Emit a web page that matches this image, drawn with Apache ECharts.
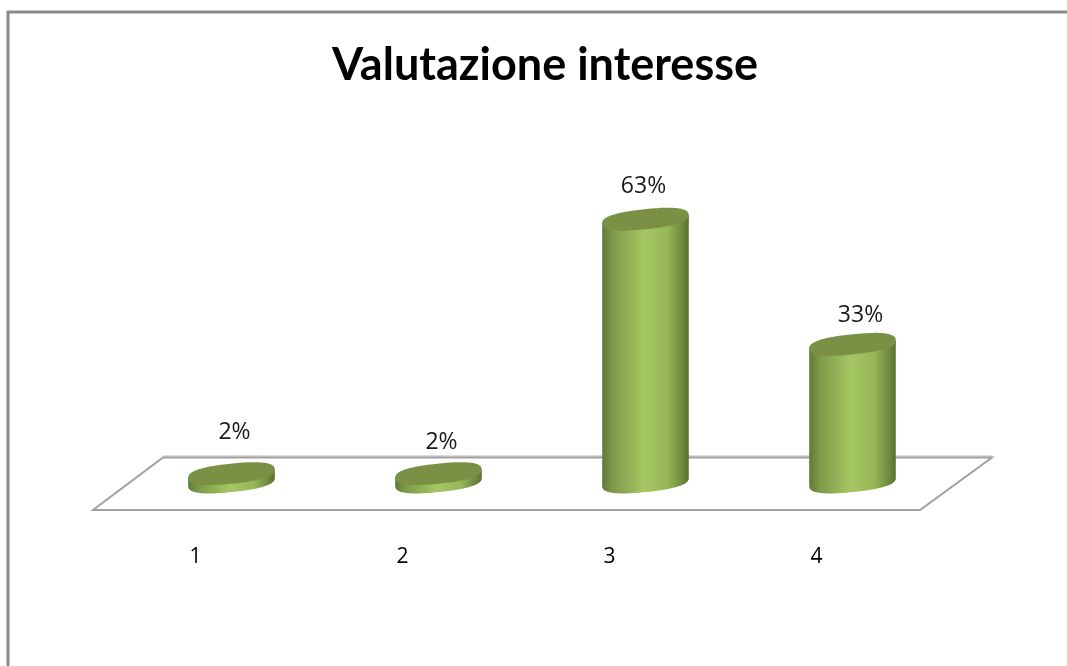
<!DOCTYPE html>
<html>
<head>
<meta charset="utf-8">
<title>Valutazione interesse</title>
<script src="https://cdn.jsdelivr.net/npm/echarts@6/dist/echarts.min.js"></script>
<style>
  html, body { margin: 0; padding: 0; background: #fff; }
  #chart { width: 1067px; height: 666px; }
</style>
</head>
<body>
<div id="chart"></div>
<script>
const chartTitle = "Valutazione interesse";
const categories = ["1", "2", "3", "4"];
const values = [2, 2, 63, 33];

// piccoli spostamenti delle etichette rispetto al cilindro
const labelNudgeX = [3, 3, -2, 8];
const labelNudgeY = [-18, -8, -10, -6];

const chart = echarts.init(document.getElementById("chart"));

const tilt = (6 * Math.PI) / 180;
const ryCap = 10;
const roundPow = (v) => Math.sign(v) * Math.pow(Math.abs(v), 0.8);

// contorno dell'ellisse inclinata, un po' piena come nell'originale
const capOutline = (cx, cy, rx) => {
  const pts = [];
  for (let i = 0; i < 120; i++) {
    const t = (Math.PI * 2 * i) / 120;
    const u = rx * roundPow(Math.cos(t));
    const v = ryCap * roundPow(Math.sin(t));
    pts.push([
      cx + u * Math.cos(tilt) + v * Math.sin(tilt),
      cy - u * Math.sin(tilt) + v * Math.cos(tilt),
    ]);
  }
  return pts;
};

const renderCylinder = (params, api) => {
  const idx = api.value(0);
  const top = api.coord([idx, api.value(1)]);
  const base = api.coord([idx, 0]);
  const rx = api.size([1, 0])[0] * 0.21;

  const cap = capOutline(top[0], top[1], rx);
  const baseLine = capOutline(base[0], base[1], rx);

  // indici dei punti estremi a destra e a sinistra
  let right = 0;
  let left = 0;
  cap.forEach((p, i) => {
    if (p[0] > cap[right][0]) right = i;
    if (p[0] < cap[left][0]) left = i;
  });
  const body = [];
  let k = right;
  while (k !== left) {
    body.push(baseLine[k]);
    k = (k + 1) % 120;
  }
  body.push(baseLine[left], cap[left], cap[right]);

  return {
    type: "group",
    children: [
      {
        type: "polygon",
        shape: { points: body },
        style: {
          fill: {
            type: "linear",
            x: 0,
            y: 0,
            x2: 1,
            y2: 0,
            colorStops: [
              { offset: 0, color: "#5f7a37" },
              { offset: 0.12, color: "#7d9a49" },
              { offset: 0.48, color: "#a5c663" },
              { offset: 0.75, color: "#98b858" },
              { offset: 0.92, color: "#6f8a40" },
              { offset: 1, color: "#5a7030" },
            ],
          },
        },
      },
      {
        type: "polygon",
        shape: { points: cap },
        style: { fill: "#7a9045" },
      },
      {
        type: "text",
        style: {
          text: api.value(1) + "%",
          x: top[0] + labelNudgeX[idx],
          y: top[1] - 23 + labelNudgeY[idx],
          align: "center",
          verticalAlign: "middle",
          font: '23px "Open Sans"',
          fill: "#1a1a1a",
        },
      },
    ],
  };
};

const option = {
  animation: false,
  title: {
    text: chartTitle,
    left: 540,
    top: 38,
    textAlign: "center",
    textStyle: {
      fontFamily: "Lato",
      fontWeight: "bold",
      fontSize: 45,
      color: "#000",
    },
  },
  grid: { left: 128, width: 828, top: 190, height: 292 },
  xAxis: {
    type: "category",
    data: categories,
    axisLine: { show: false },
    axisTick: { show: false },
    axisLabel: {
      margin: 65,
      fontFamily: "Open Sans",
      fontSize: 21,
      color: "#000",
      padding: [0, 72, 0, 0],
    },
  },
  yAxis: { type: "value", min: 0, max: 70, show: false },
  graphic: [
    // cornice
    {
      type: "polyline",
      z: 0,
      shape: { points: [[8, 666], [8, 12], [1067, 12]] },
      style: { fill: null, stroke: "#8a8a8a", lineWidth: 3 },
    },
    // pavimento
    {
      type: "polyline",
      z: 0,
      shape: { points: [[163, 456], [992, 456]] },
      style: { fill: null, stroke: "#dcdcdc", lineWidth: 2 },
    },
    {
      type: "polygon",
      z: 0,
      shape: { points: [[93, 510], [920, 510], [992, 457.5], [163, 457.5]] },
      style: { fill: "#fff", stroke: "#a0a0a0", lineWidth: 2 },
    },
  ],
  series: [
    {
      type: "custom",
      z: 5,
      renderItem: renderCylinder,
      encode: { x: 0, y: 1 },
      data: values.map((v, i) => [i, v]),
    },
  ],
};

chart.setOption(option);
window.addEventListener("resize", () => chart.resize());
</script>
</body>
</html>
